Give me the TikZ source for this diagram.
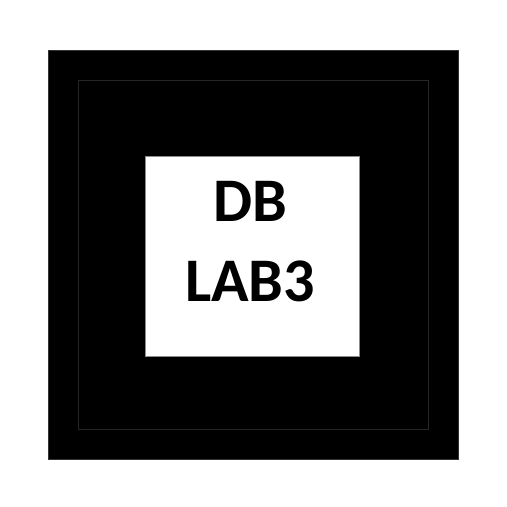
\documentclass[tikz,border=0pt]{standalone}
\usepackage{fontspec}
\setmainfont{Carlito}
\usepackage{tikz}

\begin{document}
\begin{tikzpicture}[x = 1pt, y = -1pt, font = \bfseries\fontsize{62}{80}\selectfont]
        \useasboundingbox (0,0) rectangle (507,507);
        
        \draw[fill = black, draw = black!80] (48,50) rectangle (458,459);
        \draw[black!85] (78,80) rectangle (428,429);
        \draw[fill = white, draw = black!45] (145,156) rectangle (359,356);
        
        \node[align = center, inner sep = 0pt] (title) at (250,242) {DB\\LAB3};
    \end{tikzpicture}
\end{document}
